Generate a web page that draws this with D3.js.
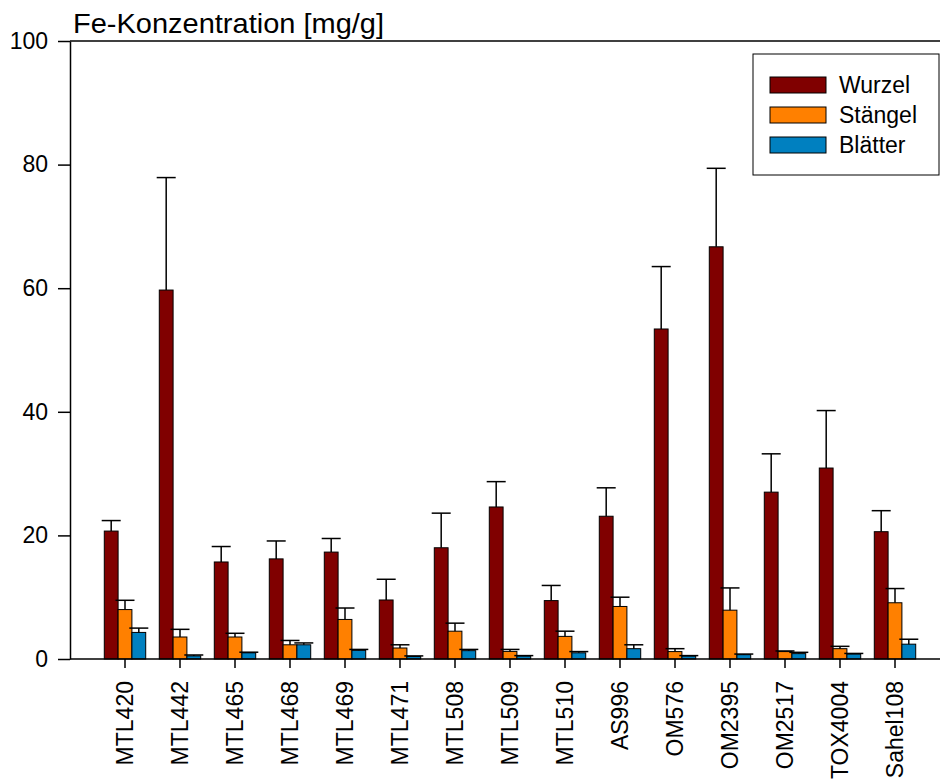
<!DOCTYPE html>
<html>
<head>
<meta charset="utf-8">
<script src="https://cdn.jsdelivr.net/npm/d3@7"></script>
<style>
  html, body { margin: 0; padding: 0; background: #fff; }
  svg { display: block; font-family: "Liberation Sans", Arial, sans-serif; }
</style>
</head>
<body>
<svg id="chart" width="940" height="783"></svg>
<script>
const categories = ["MTL420","MTL442","MTL465","MTL468","MTL469","MTL471","MTL508","MTL509","MTL510","AS996","OM576","OM2395","OM2517","TOX4004","Sahel108"];
const seriesNames = ["Wurzel","Stängel","Blätter"];
const seriesColors = ["#800000","#ff8000","#0080c0"];
const wurzel     = [20.7, 59.7, 15.7, 16.2, 17.3, 9.55, 18.0, 24.6, 9.45, 23.1, 53.4, 66.7, 27.0, 30.9, 20.6];
const wurzelSD   = [1.7, 18.2, 2.5, 2.9, 2.2, 3.35, 5.6, 4.1, 2.45, 4.6, 10.1, 12.7, 6.2, 9.3, 3.4];
const staengel   = [8.0, 3.56, 3.56, 2.3, 6.4, 1.78, 4.5, 1.23, 3.66, 8.5, 1.2, 7.9, 1.2, 1.67, 9.1];
const staengelSD = [1.5, 1.24, 0.6, 0.7, 1.85, 0.52, 1.3, 0.32, 0.84, 1.5, 0.47, 3.6, 0.1, 0.38, 2.3];
const blaetter   = [4.3, 0.5, 1.0, 2.3, 1.4, 0.4, 1.35, 0.48, 1.0, 1.67, 0.48, 0.7, 0.87, 0.8, 2.4];
const blaetterSD = [0.7, 0.15, 0.1, 0.3, 0.15, 0.1, 0.2, 0.07, 0.2, 0.63, 0.07, 0.1, 0.21, 0.1, 0.8];
const yTicks = [0, 20, 40, 60, 80, 100];
const yTitle = "Fe-Konzentration [mg/g]";

(function () {
const values = [wurzel, staengel, blaetter];
const sds = [wurzelSD, staengelSD, blaetterSD];

const svg = d3.select("#chart");
const mLeft = 70, mRight = 940, mTop = 41, mBottom = 659;
const step = 55;

const y = d3.scaleLinear().domain([0, 100]).range([mBottom, mTop]);
const pad = 0.247;
const x0 = d3.scaleBand().domain(categories)
  .range([mLeft + step / 2, mLeft + step / 2 + step * categories.length])
  .paddingInner(pad).paddingOuter(pad / 2);
const x1 = d3.scaleBand().domain(seriesNames).range([0, x0.bandwidth()]);

// top frame line
svg.append("line").attr("x1", mLeft).attr("x2", mRight).attr("y1", mTop).attr("y2", mTop)
  .attr("stroke", "#000").attr("stroke-width", 1.5);

// bars
const rows = [];
categories.forEach((c, i) => {
  seriesNames.forEach((s, j) => {
    rows.push({cat: c, ser: s, j, v: values[j][i], sd: sds[j][i]});
  });
});

const g = svg.append("g");
g.selectAll("rect.bar").data(rows).join("rect")
  .attr("class", "bar")
  .attr("x", d => x0(d.cat) + x1(d.ser))
  .attr("width", x1.bandwidth())
  .attr("y", d => y(d.v))
  .attr("height", d => y(0) - y(d.v))
  .attr("fill", d => seriesColors[d.j])
  .attr("stroke", "#000").attr("stroke-width", 1);

// error bars (upper only)
const cap = 19;
const cx = d => x0(d.cat) + x1(d.ser) + x1.bandwidth() / 2;
const eb = g.selectAll("g.err").data(rows).join("g").attr("class", "err");
eb.append("line")
  .attr("x1", cx).attr("x2", cx)
  .attr("y1", d => y(d.v))
  .attr("y2", d => y(d.v + d.sd))
  .attr("stroke", "#000").attr("stroke-width", 1.5);
eb.append("line")
  .attr("x1", d => cx(d) - cap / 2)
  .attr("x2", d => cx(d) + cap / 2)
  .attr("y1", d => y(d.v + d.sd))
  .attr("y2", d => y(d.v + d.sd))
  .attr("stroke", "#000").attr("stroke-width", 1.5);

// y axis
const yAxis = svg.append("g").attr("transform", `translate(${mLeft},0)`)
  .call(d3.axisLeft(y).tickValues(yTicks).tickSize(12).tickSizeOuter(0).tickPadding(10));
yAxis.select(".domain").attr("stroke-width", 1.5);
yAxis.selectAll(".tick line").attr("stroke-width", 1.5);
yAxis.selectAll(".tick text").attr("font-size", 23).attr("font-family", "Liberation Sans, Arial, sans-serif").attr("fill", "#000");

// x axis
const xAxis = svg.append("g").attr("transform", `translate(0,${mBottom})`)
  .call(d3.axisBottom(x0).tickSize(9).tickSizeOuter(0));
xAxis.select(".domain").remove();
xAxis.selectAll(".tick line").attr("stroke-width", 1.5);
xAxis.selectAll(".tick text")
  .attr("font-size", 23).attr("font-family", "Liberation Sans, Arial, sans-serif").attr("fill", "#000")
  .attr("text-anchor", "end")
  .attr("transform", "rotate(-90)")
  .attr("x", -22).attr("y", 0).attr("dy", "0.36em");
svg.append("line").attr("x1", mLeft).attr("x2", mRight).attr("y1", mBottom).attr("y2", mBottom)
  .attr("stroke", "#000").attr("stroke-width", 1.5);

// title
svg.append("text").attr("x", 73).attr("y", 33)
  .attr("font-size", 27.5).attr("fill", "#000")
  .attr("textLength", 311).attr("lengthAdjust", "spacingAndGlyphs")
  .text(yTitle);

// legend
const lg = svg.append("g");
lg.append("rect").attr("x", 753).attr("y", 54).attr("width", 186).attr("height", 121)
  .attr("fill", "#fff").attr("stroke", "#000").attr("stroke-width", 1);
seriesNames.forEach((s, j) => {
  lg.append("rect").attr("x", 770).attr("y", 77 + j * 30).attr("width", 56).attr("height", 16)
    .attr("fill", seriesColors[j]).attr("stroke", "#000").attr("stroke-width", 1);
  lg.append("text").attr("x", 839).attr("y", 93 + j * 30)
    .attr("font-size", 23).attr("fill", "#000").text(s);
});
})();
</script>
</body>
</html>
